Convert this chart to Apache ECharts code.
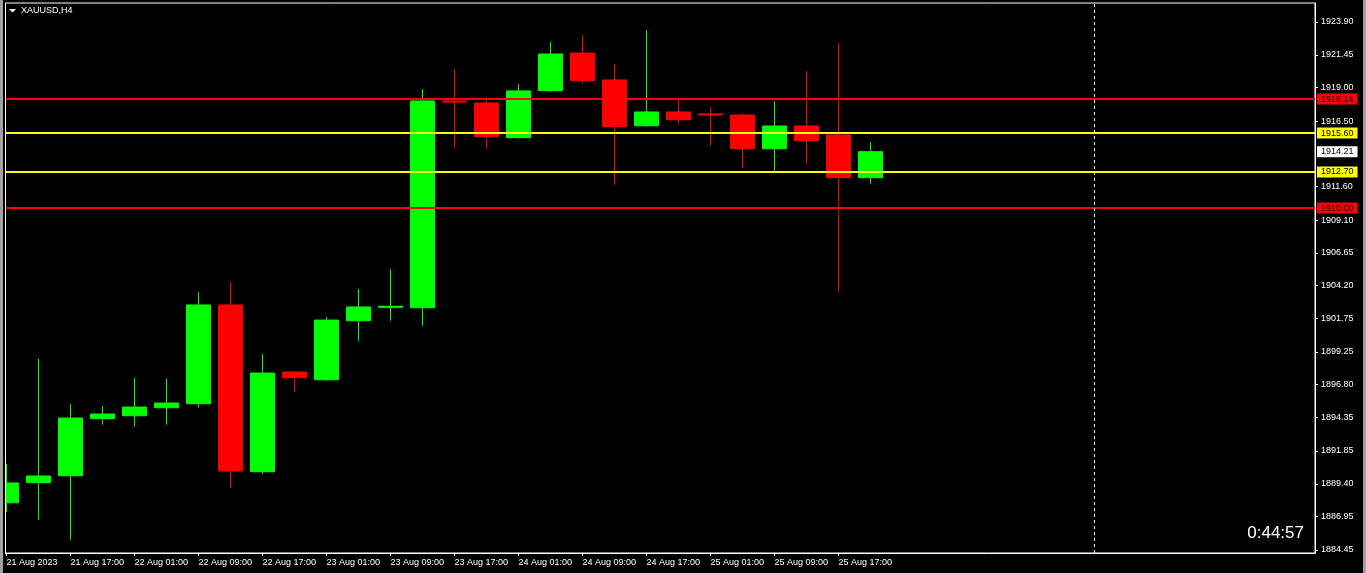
<!DOCTYPE html>
<html>
<head>
<meta charset="utf-8">
<script src="https://cdn.jsdelivr.net/npm/echarts@6/dist/echarts.min.js"></script>
<style>
html,body{margin:0;padding:0;background:#000;}
#chart{width:1366px;height:573px;}
</style>
</head>
<body>
<div id="chart"></div>
<script>
// ---- data ----
const symbolTitle = 'XAUUSD,H4';
const timerText = '0:44:57';
const barTimes = ['21 Aug 09:00','21 Aug 13:00','21 Aug 17:00','21 Aug 21:00','22 Aug 01:00','22 Aug 05:00','22 Aug 09:00','22 Aug 13:00','22 Aug 17:00','22 Aug 21:00','23 Aug 01:00','23 Aug 05:00','23 Aug 09:00','23 Aug 13:00','23 Aug 17:00','23 Aug 21:00','24 Aug 01:00','24 Aug 05:00','24 Aug 09:00','24 Aug 13:00','24 Aug 17:00','24 Aug 21:00','25 Aug 01:00','25 Aug 05:00','25 Aug 09:00','25 Aug 13:00','25 Aug 17:00','25 Aug 21:00'];
const opens  = [1887.98,1889.48,1890.00,1894.26,1894.48,1895.08,1895.38,1902.76,1890.30,1897.75,1897.17,1901.58,1902.58,1902.55,1918.00,1917.85,1915.26,1918.77,1921.58,1919.57,1916.15,1917.18,1917.03,1916.95,1914.43,1916.13,1915.46,1912.27];
const closes = [1889.46,1889.98,1894.31,1894.61,1895.13,1895.43,1902.76,1890.35,1897.67,1897.32,1901.63,1902.61,1902.66,1918.00,1917.92,1915.33,1918.75,1921.51,1919.51,1916.08,1917.18,1916.60,1916.95,1914.43,1916.13,1915.03,1912.27,1914.21];
const lows   = [1887.31,1886.71,1885.22,1893.81,1893.66,1893.81,1895.08,1889.10,1890.15,1896.28,1897.08,1900.09,1901.58,1901.21,1914.51,1914.43,1915.18,1918.69,1919.29,1911.74,1916.08,1916.30,1914.66,1913.01,1912.72,1913.31,1903.75,1911.82];
const highs  = [1890.88,1898.72,1895.36,1895.21,1897.30,1897.23,1903.73,1904.47,1899.09,1897.82,1901.86,1903.95,1905.45,1918.89,1920.39,1918.15,1919.27,1922.41,1922.93,1920.76,1923.30,1918.17,1917.55,1917.10,1918.00,1920.24,1922.33,1914.93];
const xTickIndex  = [0,2,4,6,8,10,12,14,16,18,20,22,24,26];
const xTickLabels = ['21 Aug 2023','21 Aug 17:00','22 Aug 01:00','22 Aug 09:00','22 Aug 17:00','23 Aug 01:00','23 Aug 09:00','23 Aug 17:00','24 Aug 01:00','24 Aug 09:00','24 Aug 17:00','25 Aug 01:00','25 Aug 09:00','25 Aug 17:00'];
const yTickValues = [1884.45,1886.95,1889.40,1891.85,1894.35,1896.80,1899.25,1901.75,1904.20,1906.65,1909.10,1911.60,1916.50,1919.00,1921.45,1923.90];
const redLevels = [1918.14, 1910.00];
const yellowLevels = [1915.60, 1912.70];
const bidPrice = 1914.21;
const separatorIndex = 34;

// ---- chart ----
const FONT = 'Liberation Sans';
const candleData = opens.map((o, i) => [i, o, closes[i], lows[i], highs[i]]);

function levelLine(v, color, bg, showLine) {
  return {
    yAxis: v,
    lineStyle: { color: showLine ? color : 'rgba(0,0,0,0)', width: showLine ? 2 : 0, type: 'solid' },
    label: {
      show: true, position: 'end', distance: 2,
      formatter: v.toFixed(2),
      color: '#000', backgroundColor: bg,
      fontFamily: FONT, fontSize: 9, lineHeight: 9,
      padding: [1, 4]
    }
  };
}

const markData = [];
redLevels.forEach(v => markData.push(levelLine(v, '#ff0000', '#ff0000', true)));
yellowLevels.forEach(v => markData.push(levelLine(v, '#ffff00', '#ffff00', true)));
markData.push(levelLine(bidPrice, '#ffffff', '#ffffff', false));
markData.push({
  xAxis: separatorIndex,
  lineStyle: { color: '#ffffff', width: 1, type: [3, 3] },
  label: { show: false }
});

const chart = echarts.init(document.getElementById('chart'), null, { renderer: 'canvas' });
chart.setOption({
  animation: false,
  backgroundColor: '#000000',
  title: [
    { text: symbolTitle, left: 21, top: 6, padding: 0,
      textStyle: { color: '#ffffff', fontSize: 9, fontWeight: 'normal', fontFamily: FONT } },
    { text: timerText, right: 62, top: 525, padding: 0,
      textStyle: { color: '#ffffff', fontSize: 17, fontWeight: 'normal', fontFamily: FONT } }
  ],
  graphic: [
    { type: 'polygon', z: 100, shape: { points: [[9, 9], [16, 9], [12.5, 12.5]] }, style: { fill: '#ffffff' } },
    { type: 'rect', z: 100, shape: { x: 0, y: 0, width: 5, height: 573 }, style: { fill: '#000000' } },
    { type: 'rect', z: 101, shape: { x: 0, y: 0, width: 3, height: 573 }, style: { fill: '#a0a0a0' } },
    { type: 'rect', z: 101, shape: { x: 5, y: 3, width: 1, height: 550 }, style: { fill: '#ffffff' } },
    { type: 'rect', z: 101, shape: { x: 1363, y: 0, width: 3, height: 573 }, style: { fill: '#a0a0a0' } }
  ],
  grid: {
    left: 5, top: 3, right: 51, bottom: 20,
    show: true, borderColor: '#ffffff', borderWidth: 1, backgroundColor: 'transparent'
  },
  xAxis: {
    type: 'value',
    min: -0.047, max: 40.89,
    axisLine: { show: true, onZero: false, lineStyle: { color: '#ffffff', width: 1 } },
    axisTick: { show: true, length: 3, customValues: xTickIndex, lineStyle: { color: '#ffffff' } },
    axisLabel: {
      customValues: xTickIndex,
      formatter: v => xTickLabels[xTickIndex.indexOf(Math.round(v))] || '',
      align: 'left', margin: 5, color: '#ffffff', fontSize: 9, fontFamily: FONT
    },
    splitLine: { show: false }
  },
  yAxis: {
    type: 'value', position: 'right', scale: true,
    min: 1884.226, max: 1925.32,
    axisLine: { show: true, onZero: false, lineStyle: { color: '#ffffff', width: 1 } },
    axisTick: { show: true, length: 3, customValues: yTickValues, lineStyle: { color: '#ffffff' } },
    axisLabel: {
      customValues: yTickValues,
      formatter: v => v.toFixed(2),
      margin: 6, color: '#ffffff', fontSize: 9, fontFamily: FONT
    },
    splitLine: { show: false }
  },
  series: [{
    type: 'candlestick',
    name: symbolTitle,
    data: candleData,
    encode: { x: 0, y: [1, 2, 3, 4] },
    barWidth: 24,
    clip: true,
    itemStyle: {
      color: '#00ff00', color0: '#ff0000',
      borderColor: '#00ff00', borderColor0: '#ff0000', borderWidth: 1
    },
    emphasis: { disabled: true },
    markLine: {
      silent: true, symbol: 'none', animation: false,
      data: markData
    }
  }]
});
</script>
</body>
</html>
